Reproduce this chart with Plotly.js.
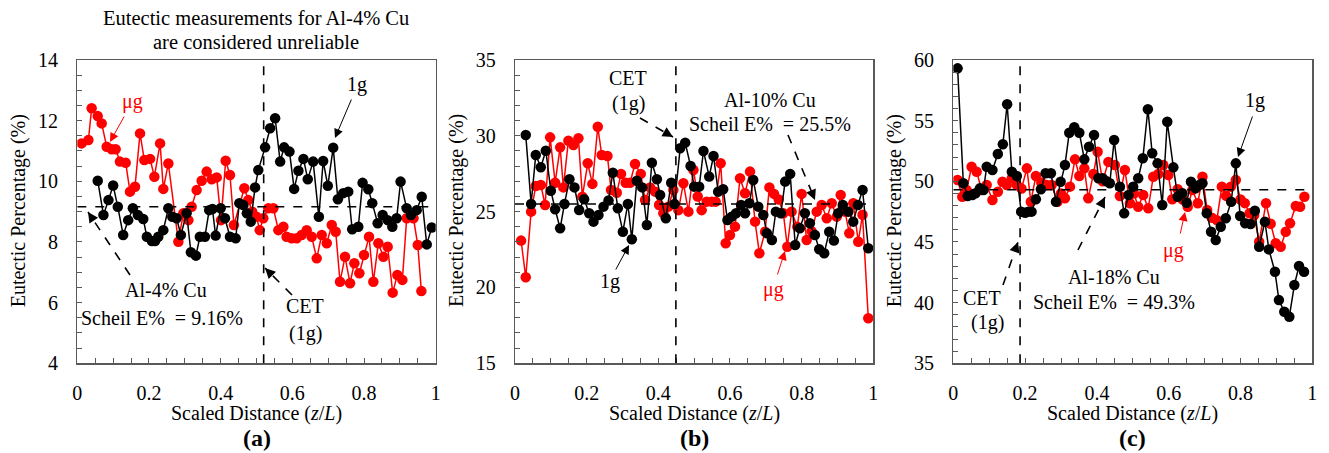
<!DOCTYPE html>
<html><head><meta charset="utf-8">
<script src="https://cdn.plot.ly/plotly-3.0.1.min.js"></script>
<style>html,body{margin:0;padding:0;background:#fff}#chart{width:1329px;height:453px}</style>
</head><body><div id="chart"></div>
<script>
// ---------- Panel (a) Al-4% Cu ----------
const aBlackX = [0.057,0.073,0.087,0.100,0.113,0.128,0.142,0.155,0.169,0.184,0.194,0.208,0.217,0.226,0.240,0.254,0.265,0.277,0.289,0.305,0.317,0.331,0.342,0.356,0.368,0.377,0.386,0.400,0.412,0.426,0.442,0.452,0.463,0.473,0.484,0.496,0.505,0.524,0.538,0.552,0.566,0.577,0.592,0.605,0.617,0.631,0.643,0.658,0.674,0.686,0.699,0.714,0.727,0.742,0.756,0.767,0.784,0.796,0.812,0.823,0.838,0.852,0.866,0.879,0.891,0.902,0.919,0.931,0.947,0.961,0.975,0.989];
const aBlackY = [10.02,8.89,9.38,9.86,9.16,8.23,8.72,9.11,8.89,8.76,8.17,8.03,8.03,8.17,8.39,9.11,8.83,8.78,8.23,8.95,7.66,7.55,8.17,8.17,9.05,9.09,8.21,9.11,8.78,8.17,8.12,9.28,9.22,8.95,8.67,9.80,10.37,11.12,11.75,12.08,10.65,11.12,10.98,9.75,10.35,10.74,10.07,10.65,8.83,10.67,9.85,11.11,9.41,9.61,9.66,8.42,8.50,9.95,9.74,9.28,8.62,8.89,8.72,8.50,8.78,9.99,9.11,8.89,9.05,9.49,7.92,8.48];
const aRedX = [0.012,0.031,0.040,0.057,0.068,0.082,0.096,0.107,0.119,0.135,0.147,0.161,0.175,0.187,0.203,0.215,0.231,0.240,0.254,0.282,0.296,0.310,0.319,0.333,0.347,0.361,0.375,0.389,0.401,0.414,0.426,0.437,0.466,0.477,0.488,0.500,0.509,0.519,0.533,0.547,0.561,0.575,0.584,0.598,0.612,0.626,0.640,0.654,0.668,0.682,0.696,0.710,0.721,0.733,0.747,0.761,0.773,0.787,0.800,0.814,0.826,0.840,0.854,0.866,0.880,0.893,0.907,0.919,0.938,0.950,0.960];
const aRedY = [11.25,11.36,12.41,12.15,11.91,11.14,11.06,11.06,10.65,10.61,9.66,9.82,11.58,10.70,10.74,10.15,11.25,9.75,10.59,8.01,8.95,8.72,9.16,9.71,10.02,10.32,10.07,10.13,8.72,10.68,10.21,8.56,9.77,9.38,9.00,8.83,8.39,8.78,9.11,9.11,8.39,8.50,8.17,8.12,8.12,8.23,8.39,8.17,7.46,8.23,7.96,8.56,8.34,6.69,7.51,6.64,7.30,6.97,7.57,8.17,6.69,7.96,7.51,7.84,6.33,6.91,6.75,8.78,8.78,7.90,6.38];
const aScheil = 9.16, aCET = 0.52;

// ---------- Panel (b) Al-10% Cu ----------
const bBlackX = [0.030,0.045,0.058,0.072,0.086,0.100,0.112,0.126,0.138,0.152,0.166,0.179,0.193,0.207,0.219,0.233,0.247,0.261,0.273,0.287,0.301,0.315,0.326,0.340,0.355,0.368,0.382,0.396,0.405,0.421,0.436,0.445,0.461,0.475,0.490,0.500,0.514,0.526,0.542,0.554,0.567,0.581,0.593,0.605,0.617,0.631,0.642,0.654,0.665,0.679,0.693,0.703,0.717,0.728,0.742,0.754,0.768,0.782,0.795,0.809,0.823,0.837,0.849,0.863,0.877,0.890,0.902,0.915,0.930,0.944,0.957,0.970,0.986];
const bBlackY = [30.06,25.51,28.74,27.93,29.02,26.38,25.16,23.90,25.51,27.14,26.60,25.11,25.82,24.89,24.34,24.78,25.33,25.73,27.57,25.22,23.68,25.51,23.18,27.04,26.60,24.12,28.23,27.14,26.10,24.56,26.91,25.51,29.18,29.55,28.01,26.65,26.65,29.00,27.31,28.67,26.32,26.48,24.45,24.67,24.89,25.44,24.89,25.55,27.09,25.33,24.78,23.58,23.13,25.00,24.89,26.98,27.49,22.80,23.90,24.89,24.23,23.46,22.52,22.26,23.68,23.09,24.89,25.44,25.00,24.34,25.44,26.43,22.59];
const bRedX = [0.017,0.030,0.045,0.058,0.072,0.084,0.098,0.112,0.126,0.135,0.149,0.163,0.177,0.188,0.203,0.216,0.231,0.242,0.258,0.268,0.284,0.296,0.309,0.321,0.335,0.351,0.363,0.377,0.391,0.402,0.414,0.428,0.442,0.456,0.470,0.484,0.498,0.510,0.521,0.535,0.549,0.560,0.574,0.588,0.600,0.614,0.628,0.642,0.656,0.670,0.682,0.698,0.710,0.723,0.736,0.749,0.760,0.772,0.788,0.800,0.814,0.828,0.842,0.856,0.870,0.884,0.898,0.909,0.921,0.933,0.944,0.958,0.970,0.986];
const bRedY = [23.09,20.67,25.00,26.69,26.76,25.44,29.90,26.91,29.24,26.60,29.68,29.40,29.84,25.99,28.19,26.83,30.60,28.74,28.67,26.43,26.25,27.49,26.91,26.91,28.14,27.49,25.77,26.60,26.32,25.44,24.89,25.33,26.43,25.10,26.87,25.00,27.75,26.00,25.10,25.66,25.66,25.66,28.19,22.92,23.46,24.01,27.20,26.21,27.64,24.34,22.26,23.68,26.60,26.17,25.80,24.89,22.69,25.00,24.01,26.17,23.13,23.70,25.00,25.44,24.56,25.55,24.67,26.10,25.00,23.58,25.55,23.02,24.79,17.97];
const bScheil = 25.5, bCET = 0.449;

// ---------- Panel (c) Al-18% Cu ----------
const cBlackX = [0.012,0.028,0.040,0.053,0.062,0.074,0.084,0.093,0.109,0.124,0.138,0.150,0.163,0.177,0.189,0.200,0.209,0.218,0.230,0.244,0.257,0.272,0.286,0.299,0.311,0.323,0.337,0.351,0.365,0.378,0.392,0.404,0.416,0.427,0.436,0.448,0.464,0.476,0.488,0.501,0.515,0.528,0.542,0.554,0.569,0.582,0.596,0.613,0.625,0.638,0.650,0.662,0.675,0.685,0.694,0.706,0.718,0.731,0.745,0.759,0.774,0.787,0.799,0.813,0.828,0.840,0.852,0.868,0.879,0.896,0.907,0.922,0.936,0.950,0.963,0.977];
const cBlackY = [59.31,49.84,48.79,48.87,49.01,49.42,49.28,51.20,50.93,52.25,53.05,56.35,50.79,50.44,47.50,47.40,47.50,47.50,48.52,49.34,50.66,50.66,48.32,49.97,51.34,54.01,54.45,54.01,51.81,52.85,53.82,50.25,50.25,50.00,49.84,53.40,49.56,47.36,48.87,49.56,50.25,51.90,55.94,52.31,51.48,48.05,54.91,51.15,48.73,49.01,48.24,49.97,49.42,49.70,49.84,47.36,45.85,45.16,46.26,46.95,48.32,51.48,47.14,46.54,46.48,47.58,44.61,46.67,44.39,42.55,40.21,39.25,38.84,41.45,43.02,42.55];
const cRedX = [0.012,0.025,0.037,0.051,0.065,0.079,0.093,0.109,0.124,0.137,0.149,0.163,0.177,0.190,0.205,0.216,0.230,0.245,0.260,0.274,0.290,0.300,0.311,0.325,0.339,0.351,0.365,0.376,0.390,0.402,0.416,0.432,0.450,0.464,0.478,0.492,0.503,0.515,0.529,0.543,0.557,0.571,0.585,0.599,0.610,0.625,0.639,0.653,0.666,0.681,0.694,0.707,0.720,0.734,0.748,0.760,0.773,0.787,0.800,0.812,0.825,0.838,0.852,0.871,0.884,0.898,0.912,0.926,0.938,0.954,0.966,0.978];
const cRedY = [50.11,48.73,49.28,51.20,50.79,49.28,49.70,48.46,49.14,49.97,49.70,50.25,49.70,49.40,51.07,48.32,50.44,49.90,49.70,49.70,48.32,49.00,48.60,49.56,51.81,50.44,51.07,48.60,50.60,52.44,50.00,51.60,51.34,48.79,50.93,48.19,49.00,47.91,48.87,47.77,50.38,50.60,51.34,50.52,48.52,49.34,48.50,47.91,49.28,48.19,50.38,47.64,47.00,46.80,49.56,48.80,49.56,50.11,48.50,48.20,47.36,47.20,45.02,48.19,46.50,44.89,44.61,45.85,46.54,47.97,47.90,48.73];
const cScheil = 49.3, cCET = 0.186;

const yRanges = [[4,14],[15,35],[35,60]];
const yDticks = [2,5,5];
const yMinor = [0.5,1,1];
const panelLetters = ['(a)','(b)','(c)'];

// ---------- layout helpers ----------
const W = 1329, H = 453;
const FONT = 'Liberation Serif, Times New Roman, serif';
const FS = 20;
const px = x => x / W, py = y => 1 - y / H;
const xDomains = [[77.3,435.7],[515,873.3],[953.3,1312.3]];
const yDom = [py(363.3), py(60)];
const RED = '#ff0000', BLK = '#000000', AX = '#595959';

function series(x, y, color, i) {
  const sfx = i === 0 ? '' : String(i + 1);
  return {x, y, type:'scatter', mode:'lines+markers', xaxis:'x'+sfx, yaxis:'y'+sfx,
    line:{color, width:1.5}, marker:{color, size:10.5}, showlegend:false, hoverinfo:'skip'};
}
const data = [
  series(aRedX, aRedY, RED, 0), series(aBlackX, aBlackY, BLK, 0),
  series(bRedX, bRedY, RED, 1), series(bBlackX, bBlackY, BLK, 1),
  series(cRedX, cRedY, RED, 2), series(cBlackX, cBlackY, BLK, 2)
];

const layout = {width:W, height:H, margin:{l:0,r:0,t:0,b:0}, paper_bgcolor:'#fff', plot_bgcolor:'#fff',
  font:{family:FONT, size:FS, color:'#000'}, showlegend:false, shapes:[], annotations:[]};

function label(x, y, text, color, size, angle) {
  layout.annotations.push({xref:'paper',yref:'paper',x:px(x),y:py(y),xanchor:'center',yanchor:'middle',
    text,showarrow:false,textangle:angle||0,font:{family:FONT,size:size||FS,color:color||'#000'}});
}

[0,1,2].forEach(i => {
  const sfx = i === 0 ? '' : String(i + 1);
  layout['xaxis'+sfx] = {domain:[px(xDomains[i][0]), px(xDomains[i][1])], anchor:'y'+sfx, range:[0,1],
    dtick:0.2, tick0:0, ticks:'inside', ticklen:5, tickcolor:AX, showline:true, mirror:true, linecolor:AX, linewidth:1.3,
    showgrid:false, zeroline:false, ticklabelstandoff:11, tickfont:{family:FONT,size:FS,color:'#000'},
    minor:{ticks:'inside', dtick:0.05, ticklen:5, tickcolor:AX, showgrid:false}};
  layout['yaxis'+sfx] = {domain:yDom, anchor:'x'+sfx, range:yRanges[i], dtick:yDticks[i], tick0:0,
    ticks:'inside', ticklen:5, tickcolor:AX, showline:true, mirror:true, linecolor:AX, linewidth:1.3,
    showgrid:false, zeroline:false, ticklabelstandoff:14, tickfont:{family:FONT,size:FS,color:'#000'},
    minor:{ticks:'inside', dtick:yMinor[i], ticklen:5, tickcolor:AX, showgrid:false}};
  const cx = (xDomains[i][0] + xDomains[i][1]) / 2;
  label(cx, 413, 'Scaled Distance (<i>z</i>/<i>L</i>)', '#000', FS);
  label(cx, 438, '<b>'+panelLetters[i]+'</b>', '#000', 24);
  label(xDomains[i][0]-58, 211, 'Eutectic Percentage (%)', '#000', FS, -90);
});

// reference lines (Scheil value and CET position)
const refs = [[aScheil,aCET,''],[bScheil,bCET,'2'],[cScheil,cCET,'3']];
refs.forEach(([s,c,sfx],i) => {
  layout.shapes.push({type:'line', xref:'x'+sfx, yref:'y'+sfx, x0:0, x1:1, y0:s, y1:s, line:{color:'#000',width:1.6,dash:'dash'}});
  layout.shapes.push({type:'line', xref:'x'+sfx, yref:'y'+sfx, x0:c, x1:c, y0:yRanges[i][0], y1:yRanges[i][1], line:{color:'#000',width:1.6,dash:'dash'}});
});

function solidArrow(tx, ty, hx, hy, color) {
  layout.annotations.push({xref:'paper',yref:'paper',x:px(hx),y:py(hy),ax:tx-hx,ay:ty-hy,axref:'pixel',ayref:'pixel',
    text:'',showarrow:true,arrowhead:2,arrowsize:1.8,arrowwidth:1,arrowcolor:color});
}
function dashArrow(tx, ty, hx, hy) {
  layout.shapes.push({type:'line',xref:'paper',yref:'paper',x0:px(tx),y0:py(ty),x1:px(hx),y1:py(hy),line:{color:'#000',width:1.6,dash:'dash'}});
  const L = Math.hypot(tx-hx, ty-hy), k = 8 / L;
  layout.annotations.push({xref:'paper',yref:'paper',x:px(hx),y:py(hy),ax:(tx-hx)*k,ay:(ty-hy)*k,axref:'pixel',ayref:'pixel',
    text:'',showarrow:true,arrowhead:2,arrowsize:1.3,arrowwidth:1.6,arrowcolor:'#000'});
}

// Panel (a) annotations
label(256, 18, 'Eutectic measurements for Al-4% Cu', '#000', 20.5);
label(256, 42, 'are considered unreliable', '#000', 20.5);
label(132, 101, 'μg', RED); solidArrow(125, 115, 110, 142, RED);
label(357, 85, '1g'); solidArrow(352, 98, 335, 138, '#000');
label(166, 290, 'Al-4% Cu'); label(162, 318, 'Scheil E%  = 9.16%');
dashArrow(130, 275, 88, 212);
label(305, 306, 'CET'); label(305, 333, '(1g)');
dashArrow(292, 295, 265, 268);

// Panel (b) annotations
label(628, 78, 'CET'); label(628, 103, '(1g)');
dashArrow(640, 118, 673, 137);
label(770, 100, 'Al-10% Cu'); label(770, 124, 'Scheil E%  = 25.5%');
dashArrow(788, 135, 815, 200);
label(610, 281, '1g'); solidArrow(615, 271, 629, 245, '#000');
label(773, 289, 'μg', RED); solidArrow(777, 276, 785, 251, RED);

// Panel (c) annotations
label(982, 298, 'CET'); label(987, 322, '(1g)');
dashArrow(1003, 285, 1018, 242);
label(1114, 277, 'Al-18% Cu'); label(1114, 302, 'Scheil E%  = 49.3%');
dashArrow(1078, 250, 1105, 197);
label(1255, 100, '1g'); solidArrow(1253, 115, 1238, 157, '#000');
label(1173, 250, 'μg', RED); solidArrow(1180, 235, 1185, 212, RED);

Plotly.newPlot('chart', data, layout, {staticPlot:true, displayModeBar:false});
</script>
</body></html>
